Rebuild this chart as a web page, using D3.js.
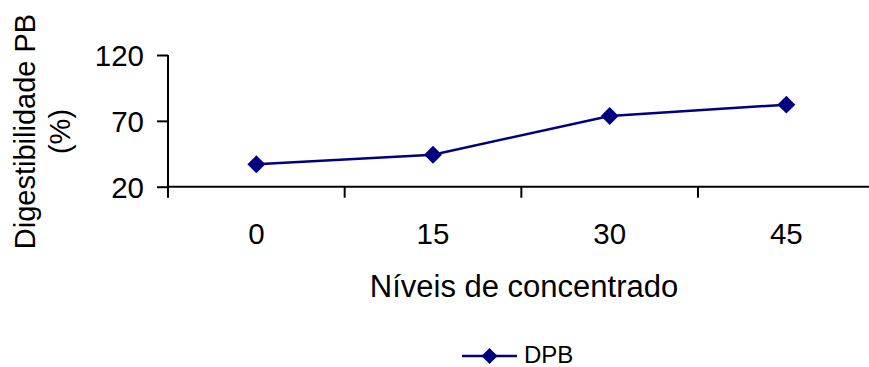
<!DOCTYPE html>
<html>
<head>
<meta charset="utf-8">
<script src="https://cdn.jsdelivr.net/npm/d3@7"></script>
<style>
  html, body { margin: 0; padding: 0; background: #fff; }
  svg { display: block; font-family: "Liberation Sans", Arial, sans-serif; }
</style>
</head>
<body>
<svg id="chart" width="869" height="367"></svg>
<script>
// Digestibilidade da proteína bruta por nível de concentrado
const categories = ["0", "15", "30", "45"];
const dpbValues = [37, 44.3, 73.7, 82.3];
const yTicks = [20, 70, 120];
const seriesName = "DPB";

const svg = d3.select("#chart");
const navy = "#000080";

const x = d3.scaleBand().domain(categories).range([168, 874.7]).padding(0);
const y = d3.scaleLinear().domain([20, 120]).range([186.7, 55]);

// Y axis
const yAxis = d3.axisLeft(y).tickValues(yTicks).tickSize(11).tickPadding(13).tickFormat(d3.format("d"));
const gy = svg.append("g").attr("transform", "translate(168,0)").call(yAxis);
gy.select(".domain").attr("stroke", "#000").attr("stroke-width", 2).attr("d", `M0,${y(120)}V${y(20)}`);
gy.selectAll(".tick line").attr("stroke", "#000").attr("stroke-width", 2);
gy.selectAll(".tick text").attr("font-size", 29.5).attr("fill", "#000").attr("dy", "0.35em");

// X axis with ticks on band boundaries
const gx = svg.append("g").attr("transform", `translate(0,${y(20)})`);
gx.append("line").attr("x1", 168).attr("x2", 874.7).attr("stroke", "#000").attr("stroke-width", 2);
const bounds = categories.map(c => x(c)).concat([x(categories[categories.length - 1]) + x.bandwidth()]);
gx.selectAll("line.tk").data(bounds).join("line").attr("class", "tk")
  .attr("x1", d => d).attr("x2", d => d).attr("y1", 0).attr("y2", 11)
  .attr("stroke", "#000").attr("stroke-width", 2);
gx.selectAll("text").data(categories).join("text")
  .attr("x", d => x(d) + x.bandwidth() / 2).attr("y", 57)
  .attr("text-anchor", "middle").attr("font-size", 29.5).attr("fill", "#000").text(d => d);

// Axis titles
svg.append("text").attr("x", 524).attr("y", 297).attr("text-anchor", "middle")
  .attr("font-size", 31).attr("fill", "#000").text("Níveis de concentrado");
const yt = svg.append("text").attr("transform", "translate(0,131.5) rotate(-90)")
  .attr("text-anchor", "middle").attr("font-size", 29).attr("fill", "#000");
yt.append("tspan").attr("x", 0).attr("y", 35).text("Digestibilidade PB");
yt.append("tspan").attr("x", 0).attr("y", 70).text("(%)");

// Series line and markers
const line = d3.line().x((d, i) => x(categories[i]) + x.bandwidth() / 2).y(d => y(d));
svg.append("path").datum(dpbValues).attr("d", line)
  .attr("fill", "none").attr("stroke", navy).attr("stroke-width", 2.5);
const diamond = d3.symbol().type(d3.symbolSquare).size(160);
svg.selectAll("path.mk").data(dpbValues).join("path").attr("class", "mk")
  .attr("d", diamond)
  .attr("transform", (d, i) => `translate(${x(categories[i]) + x.bandwidth() / 2},${y(d)}) rotate(45)`)
  .attr("fill", navy);

// Legend
const lg = svg.append("g").attr("transform", "translate(462,356)");
lg.append("line").attr("x1", 0).attr("x2", 55).attr("stroke", navy).attr("stroke-width", 2.5);
lg.append("path").attr("d", d3.symbol().type(d3.symbolSquare).size(130)).attr("transform", "translate(27.5,0) rotate(45)").attr("fill", navy);
lg.append("text").attr("x", 62).attr("y", 6.5).attr("font-size", 24).attr("fill", "#000").text(seriesName);
</script>
</body>
</html>
